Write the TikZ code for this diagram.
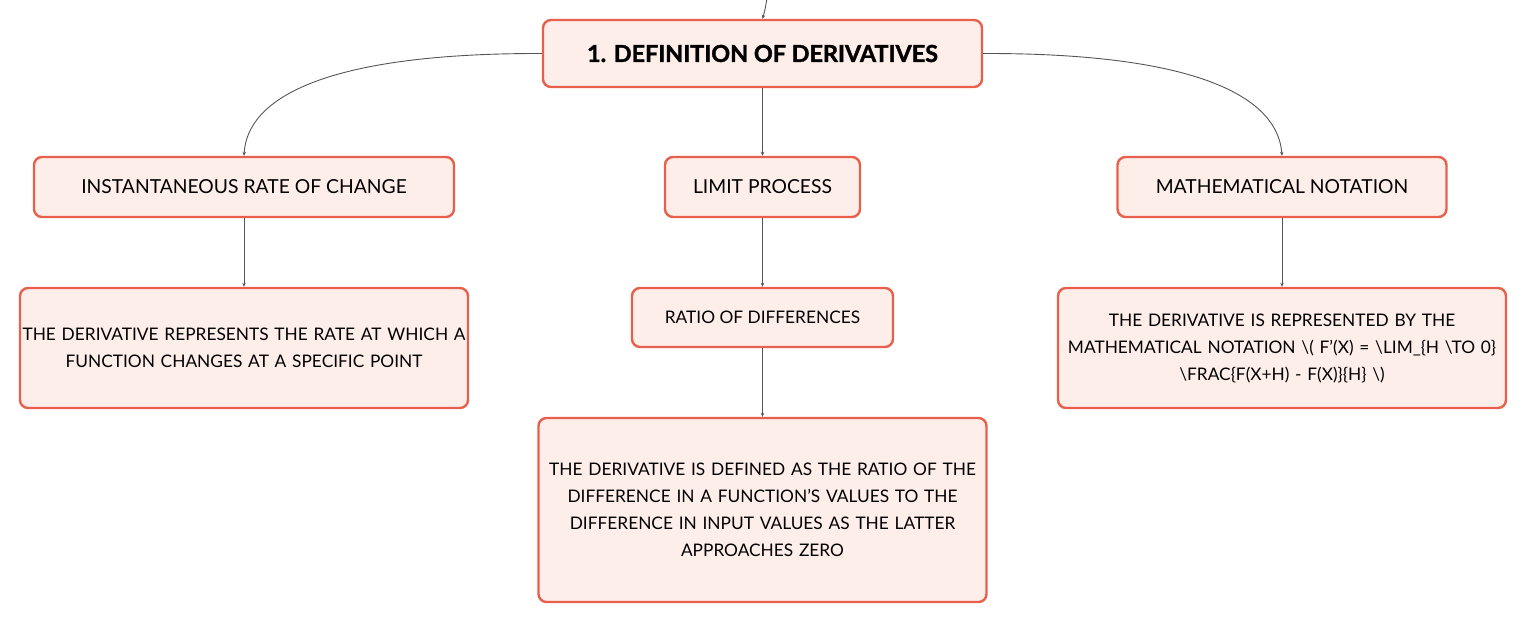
\documentclass[tikz,border=0pt]{standalone}
\usepackage{fontspec}
\setmainfont{Lato}
\newfontfamily\titlefont{Lato}[BoldFeatures={FakeBold=1.5}]
\usetikzlibrary{arrows.meta}
\definecolor{bord}{HTML}{E8604C}
\definecolor{fillc}{HTML}{FDEEEA}
\definecolor{linec}{HTML}{555555}
\tikzset{
  box/.style={draw=bord, fill=fillc, line width=2.4pt, rounded corners=8pt, align=center, inner sep=0pt, font=\fontsize{17.3}{27}\selectfont},
  head/.style={box, font=\fontsize{19.3}{24}\selectfont},
  conn/.style={draw=linec, line width=0.9pt, -{Stealth[length=4pt,width=3.5pt]}},
}
\begin{document}
\begin{tikzpicture}[x=1pt,y=-1pt]
\useasboundingbox (0,0) rectangle (1527,624);
\node[box, minimum width=439pt, minimum height=67pt, font=\fontsize{23.4}{26}\titlefont\bfseries] (title) at (762.5,53.5) {1. DEFINITION OF DERIVATIVES};
\node[head, minimum width=420pt, minimum height=60pt] (inst) at (244,187) {INSTANTANEOUS RATE OF CHANGE};
\node[head, minimum width=195pt, minimum height=60pt] (lim) at (762.5,187) {LIMIT PROCESS};
\node[head, minimum width=329pt, minimum height=60pt] (nota) at (1282,187) {MATHEMATICAL NOTATION};
\node[box, minimum width=448pt, minimum height=120pt, text width=444pt] (instd) at (244,348) {THE DERIVATIVE REPRESENTS THE RATE AT WHICH A\\FUNCTION CHANGES AT A SPECIFIC POINT};
\node[box, minimum width=261pt, minimum height=59pt] (ratio) at (762.5,317.5) {RATIO OF DIFFERENCES};
\node[box, minimum width=448pt, minimum height=120pt, text width=444pt] (notad) at (1282,348) {THE DERIVATIVE IS REPRESENTED BY THE\\MATHEMATICAL NOTATION \textbackslash( F'(X) = \textbackslash LIM\_\{H \textbackslash TO 0\}\\\textbackslash FRAC\{F(X+H) - F(X)\}\{H\} \textbackslash)};
\node[box, minimum width=448pt, minimum height=184pt, text width=444pt] (ratiod) at (762.5,510) {THE DERIVATIVE IS DEFINED AS THE RATIO OF THE\\DIFFERENCE IN A FUNCTION'S VALUES TO THE\\DIFFERENCE IN INPUT VALUES AS THE LATTER\\APPROACHES ZERO};
\coordinate (src) at (767,-2);
\draw[conn] (src) .. controls (765,10) .. (title.north);
\draw[conn] (title.west) .. controls (320,53) and (247,100) .. (inst.north);
\draw[conn] (title.east) .. controls (1205,53) and (1278,100) .. (nota.north);
\draw[conn] (title.south) -- (lim.north);
\draw[conn] (inst.south) -- (instd.north);
\draw[conn] (lim.south) -- (ratio.north);
\draw[conn] (nota.south) -- (notad.north);
\draw[conn] (ratio.south) -- (ratiod.north);
\end{tikzpicture}
\end{document}
